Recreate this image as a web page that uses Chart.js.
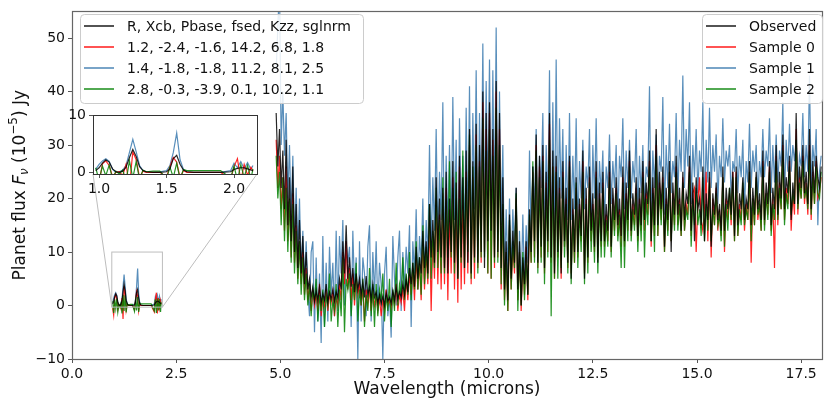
<!DOCTYPE html>
<html><head><meta charset="utf-8">
<script src="https://cdn.jsdelivr.net/npm/chart.js@4/dist/chart.umd.min.js"></script>
<style>
html,body{margin:0;padding:0;background:#fff;}
#wrap{position:relative;width:824px;height:403px;overflow:hidden;}
#main{position:absolute;left:0;top:0;width:824px;height:403px;}
#inset{position:absolute;left:63px;top:104px;width:200px;height:100px;}
</style></head><body>
<div id="wrap"><canvas id="main" width="824" height="403"></canvas><canvas id="inset" width="200" height="100"></canvas></div>
<script>
// ---------- DATA ----------
const seriesNames = ['Observed', 'Sample 0', 'Sample 1', 'Sample 2'];
const paramHeader = 'R, Xcb, Pbase, fsed, Kzz, sglnrm';
const paramLabels = ['1.2, -2.4, -1.6, 14.2, 6.8, 1.8', '1.4, -1.8, -1.8, 11.2, 8.1, 2.5', '2.8, -0.3, -3.9, 0.1, 10.2, 1.1'];
const xTicks = [0, 2.5, 5, 7.5, 10, 12.5, 15, 17.5];
const yTicks = [-10, 0, 10, 20, 30, 40, 50];
const insetXTicks = [1.0, 1.5, 2.0];
const insetYTicks = [0, 10];

// near-IR segment (microns)
const nirWave = [0.975,1.0,1.025,1.05,1.075,1.1,1.125,1.15,1.175,1.2,1.225,1.25,1.275,1.3,1.325,1.35,1.4,1.45,1.5,1.525,1.55,1.575,1.6,1.625,1.65,1.7,1.8,1.9,1.975,2.0,2.025,2.05,2.075,2.1,2.125,2.14];
const nirObserved = [0.3,0.8,1.6,2.2,1.8,0.6,0.1,0.0,0.2,0.9,2.6,4.0,2.8,1.0,0.3,0.1,0.0,0.0,0.1,0.6,2.4,3.0,1.4,0.4,0.1,0.0,0.0,0.0,0.1,0.5,0.7,0.8,0.8,0.6,0.4,0.3];
const nirSample0 = [-0.5,-1.8,1.5,2.0,1.2,-0.8,0.0,0.1,-0.6,1.4,-2.5,3.6,2.2,-0.9,0.2,0.0,0.0,0.0,-0.8,1.0,2.6,1.8,-1.0,0.3,0.0,0.0,0.0,0.0,-1.2,1.0,2.4,-1.5,1.4,-0.5,0.9,0.2];
const nirSample1 = [0.5,1.4,2.0,2.4,1.9,0.5,0.0,0.1,0.4,1.2,3.5,5.8,3.6,1.2,0.3,0.0,0.0,0.1,0.3,1.2,3.5,6.9,2.2,0.5,0.1,0.0,0.0,0.0,0.3,1.6,0.8,1.9,0.6,1.7,0.5,1.2];
const nirSample2 = [0.8,-1.4,1.1,-0.6,1.3,-1.2,0.2,-0.3,0.4,-1.5,2.0,-1.0,1.9,-1.3,0.4,0.1,0.2,0.2,-1.1,0.9,-0.9,1.6,-1.2,0.5,0.3,0.3,0.3,0.3,-1.0,1.1,-1.4,1.3,-0.9,1.2,-1.2,0.6];

// mid-IR segment (microns)
const mirWave = [
 4.90,4.94,4.98,5.02,5.06,5.10,5.14,5.18,5.22,5.26,5.30,5.34,5.38,5.42,5.46,5.50,5.54,5.58,5.62,5.66,
 5.70,5.74,5.78,5.82,5.86,5.90,5.94,5.98,6.02,6.06,6.10,6.14,6.18,6.22,6.26,6.30,6.34,6.38,6.42,6.46,
 6.50,6.54,6.58,6.62,6.66,6.70,6.74,6.78,6.82,6.86,6.90,6.94,6.98,7.02,7.06,7.10,7.14,7.18,7.22,7.26,
 7.30,7.34,7.38,7.42,7.46,7.50,7.54,7.58,7.62,7.66,7.70,7.74,7.78,7.82,7.86,7.90,7.94,7.98,8.02,8.06,
 8.10,8.14,8.18,8.22,8.26,8.30,8.34,8.38,8.42,8.46,8.50,8.54,8.58,8.62,8.66,8.70,8.74,8.78,8.82,8.86,
 8.90,8.94,8.98,9.02,9.06,9.10,9.14,9.18,9.22,9.26,9.30,9.34,9.38,9.42,9.46,9.50,9.54,9.58,9.62,9.66,
 9.70,9.74,9.78,9.82,9.86,9.90,9.94,9.98,10.02,10.06,10.10,10.14,10.18,10.22,10.26,10.30,10.34,10.38,10.42,10.46,
 10.50,10.54,10.58,10.62,10.66,10.70,10.74,10.78,10.82,10.86,10.90,10.94,10.98,11.02,11.06,11.10,11.14,11.18,11.22,11.26,
 11.30,11.34,11.38,11.42,11.46,11.50,11.54,11.58,11.62,11.66,11.70,11.74,11.78,11.82,11.86,11.90,11.94,11.98,12.02,12.06,
 12.10,12.14,12.18,12.22,12.26,12.30,12.34,12.38,12.42,12.46,12.50,12.54,12.58,12.62,12.66,12.70,12.74,12.78,12.82,12.86,
 12.90,12.94,12.98,13.02,13.06,13.10,13.14,13.18,13.22,13.26,13.30,13.34,13.38,13.42,13.46,13.50,13.54,13.58,13.62,13.66,
 13.70,13.74,13.78,13.82,13.86,13.90,13.94,13.98,14.02,14.06,14.10,14.14,14.18,14.22,14.26,14.30,14.34,14.38,14.42,14.46,
 14.50,14.54,14.58,14.62,14.66,14.70,14.74,14.78,14.82,14.86,14.90,14.94,14.98,15.02,15.06,15.10,15.14,15.18,15.22,15.26,
 15.30,15.34,15.38,15.42,15.46,15.50,15.54,15.58,15.62,15.66,15.70,15.74,15.78,15.82,15.86,15.90,15.94,15.98,16.02,16.06,
 16.10,16.14,16.18,16.22,16.26,16.30,16.34,16.38,16.42,16.46,16.50,16.54,16.58,16.62,16.66,16.70,16.74,16.78,16.82,16.86,
 16.90,16.94,16.98,17.02,17.06,17.10,17.14,17.18,17.22,17.26,17.30,17.34,17.38,17.42,17.46,17.50,17.54,17.58,17.62,17.66,
 17.70,17.74,17.78,17.82,17.86,17.90,17.94,17.98];
const mirObserved = [
 36,26,33,22,29,18,31,15,24,12,26,10,19,7,16,6,13,4,10,3,
 5,1.5,3.5,0.8,2.8,1,3.5,0.5,2.2,1,4,0.6,2.5,1.2,3,0.8,2.6,1.5,5,3,
 12,6,15,5,9,3.5,7,2.5,6,3,5,2,4.5,1.5,5.5,2,3.5,1.2,4,1.5,
 2.5,0.5,2,0.3,1.8,0,2.5,0.8,1.5,0.4,2.8,1,3.5,1.2,2.6,1.5,4,2,5,2.5,
 7,4,8,3.5,11,5,9,6,14,7,12,6,19,9,16,8,24,10,20,9,
 22,7,25,6,20,10,27,8,23,5,28,9,24,7,29,8,33,6,27,9,
 34,8,30,10,40,7,36,12,38,14,33,9,42,10,36,7,24,3,12,1,
 17,5,14,8,22,3,12,0,9,4,12,2,18,10,26,12,32,8,28,11,
 30,7,25,12,36,9,29,6,28,10,24,6,27,12,22,8,28,5,20,10,
 24,10,20,13,29,5,22,9,26,14,21,11,27,8,23,12,25,12,19,14,
 27,11,22,16,24,15,20,13,26,12,23,16,29,14,21,17,24,13,22,15,
 27,16,23,19,29,12,24,15,33,15,25,18,26,11,22,16,27,10,23,17,
 28,17,22,14,25,16,21,19,28,14,23,12,24,18,20,15,26,12,21,16,
 25,11,21,17,23,16,19,14,26,14,22,18,22,17,25,13,26,15,21,18,
 24,16,20,18,27,15,22,17,25,18,21,16,29,16,23,19,27,15,22,18,
 30,17,25,20,32,18,24,21,28,16,23,19,36,19,26,22,30,21,25,19,
 33,18,27,21,28,24,22,26];
const mirSample0 = [
 31,22,28,18,24,14,26,12,20,9,21,8,15,5,12,4,10,2,7,1,
 4,-1,3,0,2,-1,4,-2,1.5,0,3,-1,2,0.5,2.5,-2,1.5,0,4,1,
 10,4,12,3,7,1,6,0,5,2,4,0,3.5,-3,3,0,3,-1,2.5,0,
 2,-1,1.5,-2,1,-1,3,0,1,-0.5,2,0,4,-1,2,0.5,3,-1,5,1,
 6,2,7,1,9,3,8,1,12,3,10,4,16,-1,13,5,20,4,17,3,
 21,4,22,1,18,6,24,3,20,0.5,26,3,21,4,25,6,30,4,24,5,
 32,7,27,8,38,10,33,6,36,5,31,7,40,9,33,3,18,1,10,-1,
 15,3,11,6,20,1,10,-1,8,2,11,1,16,8,25,9,30,7,26,9,
 28,6,23,10,34,8,26,5,26,9,22,5,25,11,20,7,27,6,18,8,
 22,9,19,12,27,6,20,8,24,12,19,10,25,9,21,11,23,11,17,12,
 25,10,20,14,22,13,18,11,24,11,21,14,27,13,19,15,22,12,20,14,
 25,14,21,17,27,11,22,13,30,13,23,16,24,10,20,14,25,12,21,15,
 26,15,20,13,24,14,19,17,26,13,21,22,10,19,24,16,14,18,25,12,
 24,9,20,15,22,14,18,13,24,10,20,16,21,15,25,12,25,13,19,16,
 22,14,19,16,25,8,20,15,24,16,19,14,27,15,21,17,26,14,20,7,
 28,15,23,18,30,16,22,19,27,14,21,17,33,17,24,20,28,19,23,17,
 30,16,25,19,27,20,21,24];
const mirSample1 = [
 44,52,60,30,40,28,36,20,30,16,28,12,22,10,20,6,14,4,12,3,
 -2,10,12,-5,9,-3,6,-7,13,-4,8,-3,11,2,8,-2,14,-1,13,6,
 16,0,12,8,11,-4,14,3,9,-10,12,-3,9,6,-2,11,15,-3,10,2,
 12,-1,8,4,-10,6,11,-2,2,-6,13,5,0,9,14,-1,10,3,11,6,
 15,-4,12,6,18,3,13,8,20,5,16,9,30,10,24,14,33,12,25,16,
 38,9,28,14,30,12,39,16,31,7,35,16,28,12,37,14,41,10,36,18,
 44,12,36,17,49,16,42,20,46,14,44,18,52,12,40,15,30,4,18,6,
 20,6,18,10,22,1,14,2,17,4,15,8,29,12,26,18,33,14,28,22,
 36,12,30,18,44,9,38,14,46,14,35,20,33,11,30,16,36,16,28,18,
 35,14,27,20,31,18,26,22,33,12,30,20,35,17,27,21,29,15,26,22,
 32,19,27,22,30,16,28,24,35,18,29,22,31,20,27,23,33,17,28,21,
 30,18,26,24,41,15,29,22,32,20,28,25,39,17,30,22,34,21,27,24,
 36,20,31,25,43,22,33,26,38,19,30,24,33,21,29,25,38,18,31,23,
 37,22,30,25,32,19,28,24,35,23,29,26,30,20,27,25,33,21,28,24,
 31,18,27,23,34,22,29,25,30,20,27,24,33,24,29,26,35,21,30,23,
 32,23,29,26,38,20,31,25,34,25,30,27,31,22,28,26,36,24,30,25,
 43,22,30,26,33,15,25,28];
const mirSample2 = [
 28,20,25,15,24,12,22,10,20,8,19,6,14,4,12,2,9,1,6,0,
 4,-2,3,1,5,-3,2,-1,3,-4,2,0,6,-3,1,-1,4,-4,3,-2,
 9,-5,5,3,6,-2,4,1,8,-3,3,0,5,-4,2,-1,7,-2,4,-4,
 4,-2,3,1,6,-3,2,-1,5,-4,3,-1,8,0,4,2,9,1,6,2,
 10,1,8,3,12,3,9,2,15,4,11,5,19,5,14,7,22,7,16,6,
 24,6,20,9,27,9,22,6,25,5,20,8,29,7,24,10,32,5,26,8,
 30,6,26,9,35,9,29,6,33,5,28,8,37,8,30,4,19,0,10,-1,
 16,3,12,7,21,-1,10,0,10,1,9,2,17,8,27,8,29,6,24,8,
 27,4,22,9,31,-2,26,5,25,5,21,7,24,9,19,6,26,4,17,8,
 23,7,18,10,25,4,19,6,23,10,18,8,24,6,20,9,22,9,16,11,
 24,9,19,13,21,12,17,7,23,7,20,12,26,12,18,14,21,10,19,12,
 24,9,20,15,26,12,21,10,28,13,22,15,23,10,19,13,25,12,20,14,
 25,14,19,13,23,14,18,16,25,11,20,15,22,15,18,13,24,12,19,14,
 23,12,18,15,21,15,17,12,24,11,19,14,22,16,24,12,24,13,18,15,
 23,15,18,16,25,12,20,15,24,17,19,14,26,14,21,16,25,13,19,16,
 27,16,22,18,29,15,21,18,26,17,21,19,31,18,23,20,27,20,22,18,
 29,17,24,19,26,21,20,25];

// ---------- STYLE ----------
const FONT = 'DejaVu Sans';
const colors = ['rgba(0,0,0,0.85)', 'rgba(255,0,0,0.85)', 'rgba(70,130,180,0.9)', 'rgba(0,128,0,0.85)'];
const drawOrder = [0, 2, 3, 1];
const insetBox = {xmin: 0.955, xmax: 2.17, ymin: -0.3, ymax: 10};

function pts(w, v) { return w.map((x, i) => ({x: x, y: v[i]})); }
function full(nv, mv) { return pts(nirWave, nv).concat([{x: 3.5, y: null}], pts(mirWave, mv)); }
const nirSets = [nirObserved, nirSample0, nirSample1, nirSample2];
const mirSets = [mirObserved, mirSample0, mirSample1, mirSample2];

const minusFmt = v => (v < 0 ? '\u2212' + Math.abs(v) : String(v));

const framePlugin = {
  id: 'frame',
  afterDatasetsDraw(chart, args, opts) {
    const a = chart.chartArea, c = chart.ctx;
    c.save();
    c.strokeStyle = opts.color || '#555';
    c.lineWidth = opts.width || 1;
    c.strokeRect(Math.round(a.left) + 0.5, Math.round(a.top) + 0.5, Math.round(a.right - a.left), Math.round(a.bottom - a.top));
    c.restore();
  }
};

const markPlugin = {
  id: 'mark',
  afterDatasetsDraw(chart) {
    const xs = chart.scales.x, ys = chart.scales.y, c = chart.ctx;
    const l = xs.getPixelForValue(insetBox.xmin), r = xs.getPixelForValue(insetBox.xmax);
    const t = ys.getPixelForValue(insetBox.ymax), b = ys.getPixelForValue(insetBox.ymin);
    c.save();
    c.strokeStyle = '#bdbdbd';
    c.lineWidth = 1;
    c.strokeRect(l, t, r - l, b - t);
    c.beginPath();
    c.moveTo(l, b); c.lineTo(93, 174);
    c.moveTo(r, b); c.lineTo(257, 174);
    c.stroke();
    c.restore();
  }
};

function drawLegend(c, x, y, w, h, rows) {
  c.save();
  c.beginPath();
  if (c.roundRect) c.roundRect(x + 0.5, y + 0.5, w, h, 4); else c.rect(x + 0.5, y + 0.5, w, h);
  c.fillStyle = 'rgba(255,255,255,0.85)';
  c.fill();
  c.strokeStyle = '#cccccc';
  c.lineWidth = 1;
  c.stroke();
  c.font = '14px "' + FONT + '"';
  c.textBaseline = 'middle';
  c.fillStyle = '#111';
  rows.forEach((row, i) => {
    const yy = y + 12 + i * 21;
    c.strokeStyle = row.color;
    c.lineWidth = 1.6;
    c.beginPath();
    c.moveTo(x + 4, yy); c.lineTo(x + 34, yy);
    c.stroke();
    c.fillText(row.text, x + 47, yy + 1);
  });
  c.restore();
}

const textPlugin = {
  id: 'texts',
  afterDraw(chart) {
    const c = chart.ctx;
    const a = chart.chartArea;
    c.save();
    c.fillStyle = '#111';
    c.font = '17px "' + FONT + '"';
    c.textAlign = 'center';
    c.textBaseline = 'middle';
    c.fillText('Wavelength (microns)', (a.left + a.right) / 2, 390);
    c.restore();
    const segs = [
      {t: 'Planet flux ', f: '17px "' + FONT + '"', dy: 0},
      {t: 'F', f: 'italic 17px "' + FONT + '"', dy: 0},
      {t: '\u03bd', f: 'italic 12px "' + FONT + '"', dy: 4},
      {t: ' (10', f: '17px "' + FONT + '"', dy: 0},
      {t: '\u22125', f: '12px "' + FONT + '"', dy: -7},
      {t: ') Jy', f: '17px "' + FONT + '"', dy: 0}
    ];
    c.save();
    c.fillStyle = '#111';
    c.textBaseline = 'middle';
    c.translate(21, (a.top + a.bottom) / 2);
    c.rotate(-Math.PI / 2);
    let total = 0;
    segs.forEach(s => { c.font = s.f; s.w = c.measureText(s.t).width; total += s.w; });
    let xx = -total / 2;
    segs.forEach(s => { c.font = s.f; c.fillText(s.t, xx, s.dy); xx += s.w; });
    c.restore();
    drawLegend(c, 80, 14, 283, 89, [
      {color: colors[0], text: paramHeader},
      {color: colors[1], text: paramLabels[0]},
      {color: colors[2], text: paramLabels[1]},
      {color: colors[3], text: paramLabels[2]}
    ]);
    drawLegend(c, 702, 14, 120, 89, seriesNames.map((n, i) => ({color: colors[i], text: n})));
  }
};

function makeDatasets(useFull) {
  return seriesNames.map((n, i) => ({
    label: n,
    data: useFull ? full(nirSets[i], mirSets[i]) : pts(nirWave, nirSets[i]),
    borderColor: colors[i],
    backgroundColor: colors[i],
    borderWidth: 1.2,
    pointRadius: 0,
    tension: 0,
    fill: false,
    order: drawOrder[i]
  }));
}

function axisCommon(ticksArr, fmt) {
  return {
    afterBuildTicks: ax => { ax.ticks = ticksArr.map(v => ({value: v})); },
    ticks: {font: {family: FONT, size: 14}, color: '#111', callback: fmt, maxRotation: 0, autoSkip: false, padding: 3},
    grid: {display: true, drawOnChartArea: false, drawTicks: true, tickLength: 4, tickColor: '#555', tickWidth: 1},
    border: {display: false}
  };
}

new Chart(document.getElementById('main'), {
  type: 'line',
  data: {datasets: makeDatasets(true)},
  options: {
    responsive: false, animation: false, spanGaps: false,
    layout: {padding: {left: 0, right: 2, top: 7, bottom: 0}},
    plugins: {legend: {display: false}, tooltip: {enabled: false}, frame: {color: '#666', width: 1.2}},
    scales: {
      x: Object.assign({type: 'linear', min: 0, max: 18, afterFit: ax => { ax.height = 44; }}, axisCommon(xTicks, v => v.toFixed(1))),
      y: Object.assign({type: 'linear', min: -10, max: 55, afterFit: ax => { ax.width = 72; }}, axisCommon(yTicks, minusFmt))
    }
  },
  plugins: [markPlugin, framePlugin, textPlugin]
});

const bgPlugin = {
  id: 'bg',
  beforeDatasetsDraw(chart) {
    const a = chart.chartArea, c = chart.ctx;
    c.save(); c.fillStyle = '#fff'; c.fillRect(a.left, a.top, a.right - a.left, a.bottom - a.top); c.restore();
  }
};

new Chart(document.getElementById('inset'), {
  type: 'line',
  data: {datasets: makeDatasets(false)},
  options: {
    responsive: false, animation: false,
    layout: {padding: {left: 0, right: 6, top: 6, bottom: 0}},
    plugins: {legend: {display: false}, tooltip: {enabled: false}, frame: {color: '#333', width: 1}},
    scales: {
      x: Object.assign({type: 'linear', min: insetBox.xmin, max: insetBox.xmax, afterFit: ax => { ax.height = 30; }}, axisCommon(insetXTicks, v => v.toFixed(1))),
      y: Object.assign({type: 'linear', min: insetBox.ymin, max: insetBox.ymax, afterFit: ax => { ax.width = 30; }}, axisCommon(insetYTicks, minusFmt))
    }
  },
  plugins: [bgPlugin, framePlugin]
});
</script>
</body></html>
